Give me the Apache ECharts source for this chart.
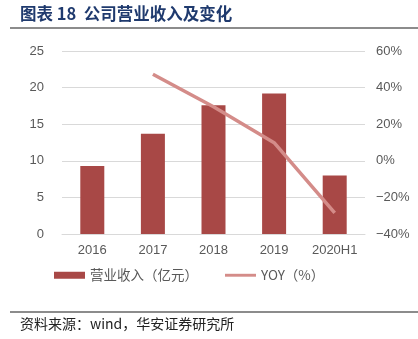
<!DOCTYPE html>
<html><head><meta charset="utf-8">
<script src="https://cdn.jsdelivr.net/npm/echarts@6/dist/echarts.min.js"></script>
<style>html,body{margin:0;padding:0;background:#fff}#c{width:418px;height:339px}</style>
</head><body><div id="c"></div>
<script>
var categories = ['2016', '2017', '2018', '2019', '2020H1'];
var revenue = [9.3, 13.7, 17.6, 19.2, 8.0];
var yoy = [null, 47.3, 29.5, 9.9, -28.4];
var leftTicks = [0, 5, 10, 15, 20, 25];
var rightTicks = [-40, -20, 0, 20, 40, 60];
var titleText = '图表 18  公司营业收入及变化';
var sourceText = '资料来源：wind，华安证券研究所';
var seriesNames = ['营业收入（亿元）', 'YOY（%）'];

var chart = echarts.init(document.getElementById('c'), null, {renderer: 'canvas'});
var cjk = '"Noto Sans CJK SC", sans-serif';
chart.setOption({
  animation: false,
  backgroundColor: '#fff',
  graphic: [
    {type: 'text', left: 20, top: 5, style: {text: titleText, font: 'bold 16.5px "Noto Sans CJK SC"', fill: '#1f3a6e'}},
    {type: 'rect', shape: {x: 10, y: 27, width: 408, height: 2}, style: {fill: '#8c8c8c'}},
    {type: 'rect', shape: {x: 10, y: 311, width: 408, height: 2}, style: {fill: '#8c8c8c'}},
    {type: 'text', left: 20, top: 317, style: {text: sourceText, font: '14px "Noto Sans CJK SC"', fill: '#222'}}
  ],
  grid: {left: 62, right: 53, top: 51, bottom: 105, containLabel: false},
  legend: {
    bottom: 52, left: 49,
    itemGap: 27, itemWidth: 31, itemHeight: 7,
    textStyle: {color: '#595959', fontSize: 13.5, fontFamily: cjk},
    data: [
      {name: seriesNames[0], icon: 'rect'},
      {name: seriesNames[1], icon: 'path://M0,4 L32,4 L32,7 L0,7 Z'}
    ]
  },
  xAxis: {
    type: 'category', data: categories,
    axisLine: {lineStyle: {color: '#d9d9d9'}},
    axisTick: {show: false},
    axisLabel: {color: '#595959', fontSize: 13, fontFamily: 'Arial, "Liberation Sans"', margin: 10}
  },
  yAxis: [
    {type: 'value', min: 0, max: 25, interval: 5,
     axisLine: {show: false}, axisTick: {show: false},
     axisLabel: {color: '#595959', fontSize: 13, fontFamily: 'Arial, "Liberation Sans"', margin: 18},
     splitLine: {lineStyle: {color: '#d9d9d9'}}},
    {type: 'value', min: -40, max: 60, interval: 20,
     axisLine: {show: false}, axisTick: {show: false},
     axisLabel: {color: '#595959', fontSize: 13, fontFamily: 'Arial, "Liberation Sans"', margin: 11, formatter: function(v){return (v<0?'\u2212'+(-v):v)+'%';}},
     splitLine: {show: false}}
  ],
  series: [
    {name: seriesNames[0], type: 'bar', data: revenue, barWidth: 24,
     itemStyle: {color: '#a84846'}},
    {name: seriesNames[1], type: 'line', yAxisIndex: 1, data: yoy,
     symbol: 'none', lineStyle: {color: '#d48c89', width: 3.5},
     itemStyle: {color: '#d48c89'}}
  ]
});
</script></body></html>
